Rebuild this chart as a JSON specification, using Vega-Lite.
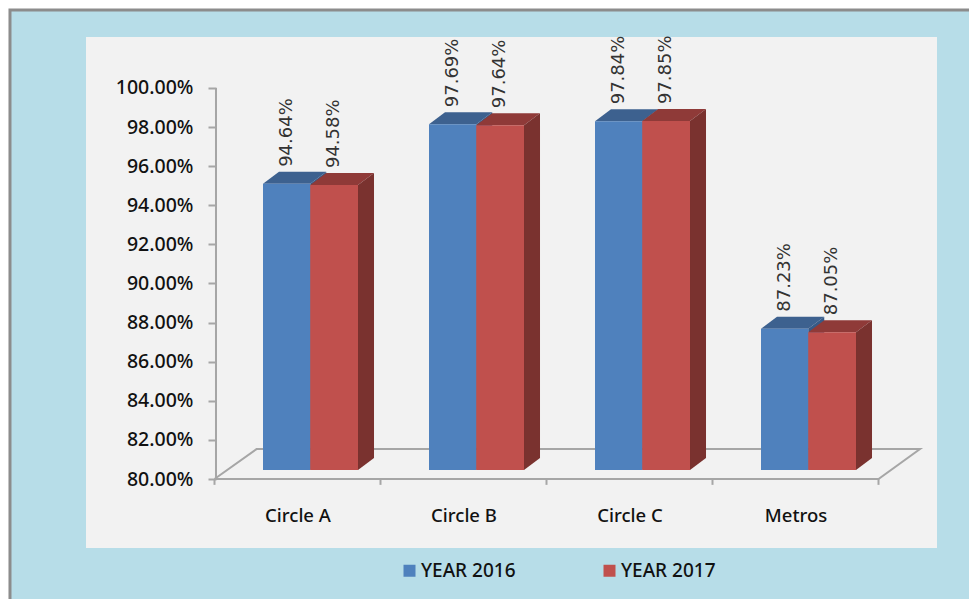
{
"$schema":"https://vega.github.io/schema/vega-lite/v6.json",
"width":969,"height":599,"padding":0,"autosize":{"type":"none"},
"background":"#ffffff",
"view":{"stroke":null},
"config":{"view":{"stroke":null},"axis":{"title":null,"grid":false}},
"resolve":{"axis":{"x":"independent","y":"independent"}},
"datasets":{
"bars":[
{"category":"Circle A","pos":1,"series":"YEAR 2016","value":0.9464},
{"category":"Circle A","pos":1,"series":"YEAR 2017","value":0.9458},
{"category":"Circle B","pos":2,"series":"YEAR 2016","value":0.9769},
{"category":"Circle B","pos":2,"series":"YEAR 2017","value":0.9764},
{"category":"Circle C","pos":3,"series":"YEAR 2016","value":0.9784},
{"category":"Circle C","pos":3,"series":"YEAR 2017","value":0.9785},
{"category":"Metros","pos":4,"series":"YEAR 2016","value":0.8723},
{"category":"Metros","pos":4,"series":"YEAR 2017","value":0.8705}],
"floor":[
{"i":1,"p":0.5,"v":0.8},{"i":2,"p":0.753,"v":0.8153},{"i":3,"p":4.75,"v":0.8153},{"i":4,"p":4.5,"v":0.8},{"i":5,"p":0.5,"v":0.8}],
"ticks":[{"p":0.5},{"p":1.5},{"p":2.5},{"p":3.5},{"p":4.5}]
},
"layer":[
{"data":{"values":[{}]},"mark":{"type":"rect","fill":"#b7dde8","stroke":"#8c8c8c","strokeWidth":3,"clip":true},
 "encoding":{
  "x":{"datum":-0.732,"type":"quantitative","scale":{"domain":[-0.79217,5.04518],"nice":false,"zero":false},"axis":null},
  "x2":{"datum":5.2},
  "y":{"datum":1.0399,"type":"quantitative","scale":{"domain":[0.73862,1.04501],"nice":false,"zero":false},"axis":null},
  "y2":{"datum":0.6}}},
{"data":{"values":[{}]},"mark":{"type":"rect","fill":"#f2f2f2"},
 "encoding":{
  "x":{"datum":-0.2741,"type":"quantitative","axis":null},"x2":{"datum":4.8524},
  "y":{"datum":1.0261,"type":"quantitative","axis":null},"y2":{"datum":0.7647}}},
{"data":{"name":"floor"},"mark":{"type":"line","stroke":"#a6a6a6","strokeWidth":2},
 "encoding":{"x":{"field":"p","type":"quantitative","axis":null},"y":{"field":"v","type":"quantitative","axis":null},"order":{"field":"i"}}},
{"data":{"name":"ticks"},"mark":{"type":"rule","stroke":"#a6a6a6","strokeWidth":2},
 "encoding":{"x":{"field":"p","type":"quantitative","axis":null},"y":{"datum":0.8,"type":"quantitative","axis":null},"y2":{"datum":0.797}}},
{"data":{"values":[{}]},"mark":{"type":"rule","stroke":"#a6a6a6","strokeWidth":2},
 "encoding":{"x":{"datum":0.509,"type":"quantitative","axis":null},"y":{"datum":0.8,"type":"quantitative","axis":null},"y2":{"datum":1.0}}},
{"data":{"name":"bars"},
 "transform":[
  {"filter":"datum.series==='YEAR 2016'"},
  {"calculate":"[0,1,2,3]","as":"k"},{"flatten":["k"]},
  {"calculate":"datum.pos-0.2078+[0,0.0964,0.2846,0.381][datum.k]","as":"tx"},
  {"calculate":"datum.value+0.0046+(datum.k==0?0:0.0061)","as":"ty"},
  {"calculate":"datum.value+0.0046+(datum.k==3?0.0061:0)","as":"ty2"}],
 "mark":{"type":"area","fill":"#3d618f","orient":"vertical"},
 "encoding":{"x":{"field":"tx","type":"quantitative","axis":null},"y":{"field":"ty","type":"quantitative","axis":null},"y2":{"field":"ty2"},"detail":{"field":"category"}}},
{"data":{"name":"bars"},
 "transform":[
  {"filter":"datum.series==='YEAR 2016'"},
  {"calculate":"[0,1]","as":"k"},{"flatten":["k"]},
  {"calculate":"datum.pos+0.0768+datum.k*0.0964","as":"sx"},
  {"calculate":"datum.value+0.0046+datum.k*0.0061","as":"sy"},
  {"calculate":"0.8046+datum.k*0.0061","as":"sy2"}],
 "mark":{"type":"area","fill":"#375a87","orient":"vertical"},
 "encoding":{"x":{"field":"sx","type":"quantitative","axis":null},"y":{"field":"sy","type":"quantitative","axis":null},"y2":{"field":"sy2"},"detail":{"field":"category"}}},
{"data":{"name":"bars"},
 "transform":[
  {"filter":"datum.series==='YEAR 2017'"},
  {"calculate":"[0,1,2,3]","as":"k"},{"flatten":["k"]},
  {"calculate":"datum.pos+0.0768+[0,0.0964,0.2877,0.3841][datum.k]","as":"tx"},
  {"calculate":"datum.value+0.0046+(datum.k==0?0:0.0061)","as":"ty"},
  {"calculate":"datum.value+0.0046+(datum.k==3?0.0061:0)","as":"ty2"}],
 "mark":{"type":"area","fill":"#8f3a38","orient":"vertical"},
 "encoding":{"x":{"field":"tx","type":"quantitative","axis":null},"y":{"field":"ty","type":"quantitative","axis":null},"y2":{"field":"ty2"},"detail":{"field":"category"}}},
{"data":{"name":"bars"},
 "transform":[
  {"filter":"datum.series==='YEAR 2017'"},
  {"calculate":"[0,1]","as":"k"},{"flatten":["k"]},
  {"calculate":"datum.pos+0.3645+datum.k*0.0964","as":"sx"},
  {"calculate":"datum.value+0.0046+datum.k*0.0061","as":"sy"},
  {"calculate":"0.8046+datum.k*0.0061","as":"sy2"}],
 "mark":{"type":"area","fill":"#7a322f","orient":"vertical"},
 "encoding":{"x":{"field":"sx","type":"quantitative","axis":null},"y":{"field":"sy","type":"quantitative","axis":null},"y2":{"field":"sy2"},"detail":{"field":"category"}}},
{"data":{"name":"bars"},
 "transform":[
  {"calculate":"datum.pos+(datum.series==='YEAR 2016'?-0.2078:0.0768)","as":"x0"},
  {"calculate":"datum.pos+(datum.series==='YEAR 2016'?0.0768:0.3645)","as":"x1"},
  {"calculate":"datum.value+0.0046","as":"top"},
  {"calculate":"0.8046","as":"base"}],
 "mark":{"type":"rect"},
 "encoding":{
  "x":{"field":"x0","type":"quantitative","axis":{"orient":"bottom","offset":-120,"values":[1,2,3,4],"labelExpr":"['Circle A','Circle B','Circle C','Metros'][datum.value-1]","ticks":false,"domain":false,"labelPadding":27,"labelFont":"Noto Sans","labelFontSize":18.5,"labelFontWeight":500,"labelColor":"#111111","zindex":1,"labelOverlap":false,"labelFlush":false}},
  "x2":{"field":"x1"},
  "y":{"field":"top","type":"quantitative","axis":{"orient":"left","offset":-216,"values":[0.8,0.82,0.84,0.86,0.88,0.9,0.92,0.94,0.96,0.98,1.0],"format":".2%","domain":false,"tickSize":8,"tickColor":"#a6a6a6","tickWidth":2,"labelPadding":15,"labelFont":"Noto Sans","labelFontSize":19.5,"labelFontWeight":500,"labelColor":"#111111","zindex":1,"labelOverlap":false,"labelFlush":false}},
  "y2":{"field":"base"},
  "color":{"field":"series","type":"nominal","scale":{"domain":["YEAR 2016","YEAR 2017"],"range":["#4f81bd","#c0504d"]},
   "legend":{"title":null,"orient":"none","legendX":400,"legendY":561,"direction":"horizontal","columns":2,"symbolType":"square","symbolSize":144,"symbolStrokeWidth":0,"labelFont":"Noto Sans","labelFontSize":19,"labelFontWeight":500,"labelColor":"#111111","columnPadding":84,"labelOffset":2,"zindex":1}}}},
{"data":{"name":"bars"},
 "transform":[
  {"calculate":"datum.pos+(datum.series==='YEAR 2016'?-0.0655:0.2206)","as":"cx"},
  {"calculate":"datum.value+0.0107","as":"ly"}],
 "mark":{"type":"text","angle":270,"align":"left","baseline":"middle","dx":5,"font":"DejaVu Sans","fontSize":18,"fill":"#333333"},
 "encoding":{"x":{"field":"cx","type":"quantitative","axis":null},"y":{"field":"ly","type":"quantitative","axis":null},"text":{"field":"value","type":"quantitative","format":".2%"}}}
]
}
